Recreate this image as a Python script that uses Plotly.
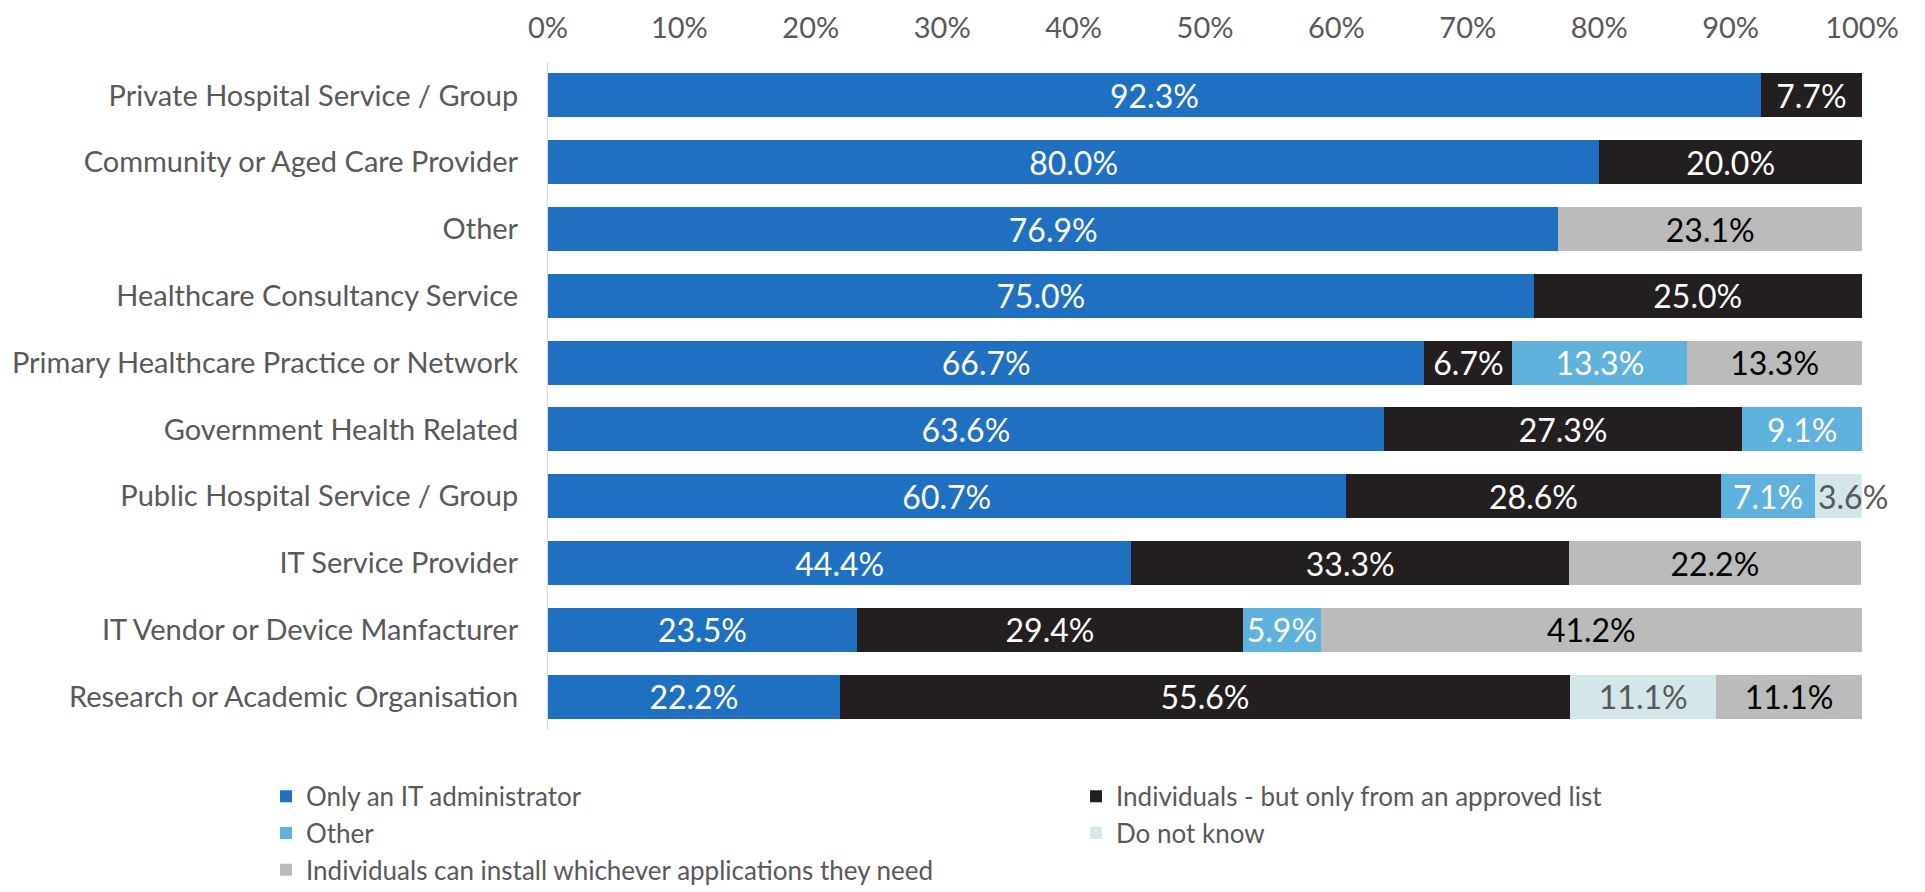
import plotly.graph_objects as go

categories = [
    "Private Hospital Service / Group",
    "Community or Aged Care Provider",
    "Other",
    "Healthcare Consultancy Service",
    "Primary Healthcare Practice or Network",
    "Government Health Related",
    "Public Hospital Service / Group",
    "IT Service Provider",
    "IT Vendor or Device Manfacturer",
    "Research or Academic Organisation",
]

only_it_admin = [92.3, 80.0, 76.9, 75.0, 66.7, 63.6, 60.7, 44.4, 23.5, 22.2]
approved_list = [7.7, 20.0, None, 25.0, 6.7, 27.3, 28.6, 33.3, 29.4, 55.6]
other = [None, None, None, None, 13.3, 9.1, 7.1, None, 5.9, None]
do_not_know = [None, None, None, None, None, None, 3.6, None, None, 11.1]
install_any = [None, None, 23.1, None, 13.3, None, None, 22.2, 41.2, 11.1]

tick_vals = [0, 10, 20, 30, 40, 50, 60, 70, 80, 90, 100]
tick_text = [f"{v}%" for v in tick_vals]

series = [
    ("Only an IT administrator", only_it_admin, "#1F70C1", "#FFFFFF"),
    ("Individuals - but only from an approved list", approved_list, "#231F20", "#FFFFFF"),
    ("Other", other, "#5FB1DE", "#FFFFFF"),
    ("Do not know", do_not_know, "#D3E6EA", "#595959"),
    ("Individuals can install whichever applications they need", install_any, "#BBBBBB", "#000000"),
]

FONT = "Lato"
LABEL_SIZE = 32
SMALL = 5.0  # labels of segments narrower than this spill out to the right

fig = go.Figure()
running = [0.0] * len(categories)
annotations = []
for name, vals, color, tcolor in series:
    texts = []
    for i, v in enumerate(vals):
        if v is None:
            texts.append("")
            continue
        if v < SMALL:
            texts.append("")
            annotations.append(dict(
                x=running[i], y=categories[i], xref="x", yref="y",
                text=f"{v:.1f}%", showarrow=False, xanchor="left",
                xshift=1, font=dict(color=tcolor, size=LABEL_SIZE, family=FONT),
            ))
        else:
            texts.append(f"{v:.1f}%")
        running[i] += v
    fig.add_trace(go.Bar(
        name=name,
        y=categories,
        x=vals,
        orientation="h",
        marker=dict(color=color, line=dict(width=0)),
        text=texts,
        textposition="inside",
        insidetextanchor="middle",
        textfont=dict(color=tcolor, size=LABEL_SIZE, family=FONT),
        cliponaxis=False,
        hoverinfo="skip",
    ))

fig.update_layout(
    barmode="stack",
    bargap=0.34,
    width=1925,
    height=892,
    margin=dict(l=548, r=63, t=62, b=162, autoexpand=False),
    paper_bgcolor="white",
    plot_bgcolor="white",
    font=dict(family=FONT, size=29, color="#595959"),
    uniformtext=dict(minsize=LABEL_SIZE, mode="show"),
    annotations=annotations,
    showlegend=True,
    legend=dict(
        orientation="h",
        x=-0.2146,
        xanchor="left",
        y=-0.064,
        yanchor="top",
        entrywidth=765,
        entrywidthmode="pixels",
        traceorder="normal",
        font=dict(size=26, color="#595959", family=FONT),
        itemclick=False,
        itemdoubleclick=False,
    ),
)
fig.update_xaxes(
    side="top",
    range=[0, 100],
    tickvals=tick_vals,
    ticktext=tick_text,
    showgrid=False,
    zeroline=False,
    showline=False,
    ticks="",
    ticklabelstandoff=17,
    tickfont=dict(size=29, color="#595959"),
)
fig.update_yaxes(
    categoryorder="array",
    categoryarray=categories,
    autorange="reversed",
    showgrid=False,
    zeroline=False,
    showline=True,
    linecolor="#D9D9D9",
    linewidth=1,
    ticks="",
    ticklabelstandoff=23,
    tickfont=dict(size=29, color="#595959"),
)

fig.write_html("out.html")
